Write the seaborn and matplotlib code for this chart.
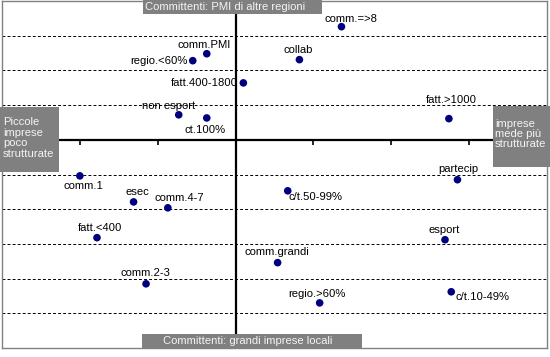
import matplotlib
matplotlib.use("Agg")
import matplotlib.pyplot as plt
from matplotlib.patches import Rectangle
import seaborn as sns
import pandas as pd

labels = ["comm.=>8", "collab", "fatt.>1000", "partecip", "comm.PMI", "regio.<60%",
          "fatt.400-1800", "non esport", "ct.100%", "comm.1", "esec", "comm.4-7",
          "fatt.<400", "comm.2-3", "comm.grandi", "c/t.50-99%", "esport",
          "regio.>60%", "c/t.10-49%"]
dim1 = [1.36, 0.82, 2.74, 2.85, -0.37, -0.55, 0.10, -0.73, -0.37, -2.00, -1.31, -0.87,
        -1.78, -1.15, 0.54, 0.67, 2.69, 1.08, 2.77]
dim2 = [3.26, 2.31, 0.61, -1.15, 2.48, 2.28, 1.64, 0.72, 0.63, -1.04, -1.79, -1.96,
        -2.82, -4.15, -3.54, -1.47, -2.88, -4.70, -4.38]

top_label = "Committenti: PMI di altre regioni"
bottom_label = "Committenti: grandi imprese locali"
left_label = "Piccole\nimprese\npoco\nstrutturate"
right_label = "imprese\nmede più\nstrutturate"

# label placement (pixel offsets dx, dy (down positive), horizontal alignment)
place = {
    "comm.=>8": (9, -8, "center"), "collab": (-1, -10, "center"),
    "fatt.>1000": (2, -19, "center"), "partecip": (1, -11, "center"),
    "comm.PMI": (-3, -9, "center"), "regio.<60%": (-5, 0, "right"),
    "fatt.400-1800": (-6, 0, "right"), "non esport": (-10, -9, "center"),
    "ct.100%": (-2, 12, "center"), "comm.1": (4, 10, "center"),
    "esec": (4, -10, "center"), "comm.4-7": (11, -10, "center"),
    "fatt.<400": (3, -10, "center"), "comm.2-3": (-1, -11, "center"),
    "comm.grandi": (-1, -11, "center"), "c/t.50-99%": (1, 6, "left"),
    "esport": (-1, -10, "center"), "regio.>60%": (-3, -9, "center"),
    "c/t.10-49%": (4, 5, "left"),
}

df = pd.DataFrame({"label": labels, "x": dim1, "y": dim2})

sns.set_style("white")
plt.rcParams["font.family"] = ["Liberation Sans", "DejaVu Sans"]

W, H = 550, 357
fig = plt.figure(figsize=(W / 100, H / 100), dpi=100)
ax = fig.add_axes([2 / W, (H - 348) / H, 545 / W, 347 / H])
ax.set_xlim(-3, 4)
ax.set_ylim(-6, 4)

for yv in [-5, -4, -3, -2, -1, 1, 2, 3]:
    ax.axhline(yv, color="black", lw=0.7, ls=(0, (3, 2.2)), zorder=1)
ax.axhline(0, color="black", lw=1.6, zorder=2)
ax.axvline(0, color="black", lw=1.6, zorder=2)
ax.plot([-2, -1, 1, 2, 3], [0] * 5, ls="none", marker=3, ms=3.5, mew=1.2,
        color="black", zorder=2)

sns.scatterplot(data=df, x="x", y="y", ax=ax, color="#00007f", s=30,
                edgecolor="none", zorder=4, legend=False)

fs = 8.1
for lab, xv, yv in zip(labels, dim1, dim2):
    dx, dy, ha = place[lab]
    ax.annotate(lab, (xv, yv), xytext=(dx * 0.72, -dy * 0.72),
                textcoords="offset points", ha=ha, va="center",
                fontsize=fs, color="black", zorder=5)

ax.set_xticks([])
ax.set_yticks([])
ax.set_xlabel("")
ax.set_ylabel("")
for s in ax.spines.values():
    s.set_color("#808080")
    s.set_linewidth(1.0)


def box(x0, y0, x1, y1, text, tx, ty, ha="center", ls=1.15):
    r = Rectangle((x0 / W, 1 - y1 / H), (x1 - x0) / W, (y1 - y0) / H,
                  transform=fig.transFigure, facecolor="#808080",
                  edgecolor="none", zorder=10)
    fig.patches.append(r)
    fig.text(tx / W, 1 - ty / H, text, ha=ha, va="center", color="#f4f4f4",
             fontsize=fs, linespacing=ls, zorder=11)


box(143, 0, 322, 14, top_label, 225, 7)
box(142, 334, 362, 349, bottom_label, 248, 341)
box(0, 107, 59, 172, left_label, 3, 138, ha="left", ls=1.1)
box(493, 106, 550, 167, right_label, 495, 134, ha="left", ls=0.95)

fig.savefig("out.png", dpi=100)
